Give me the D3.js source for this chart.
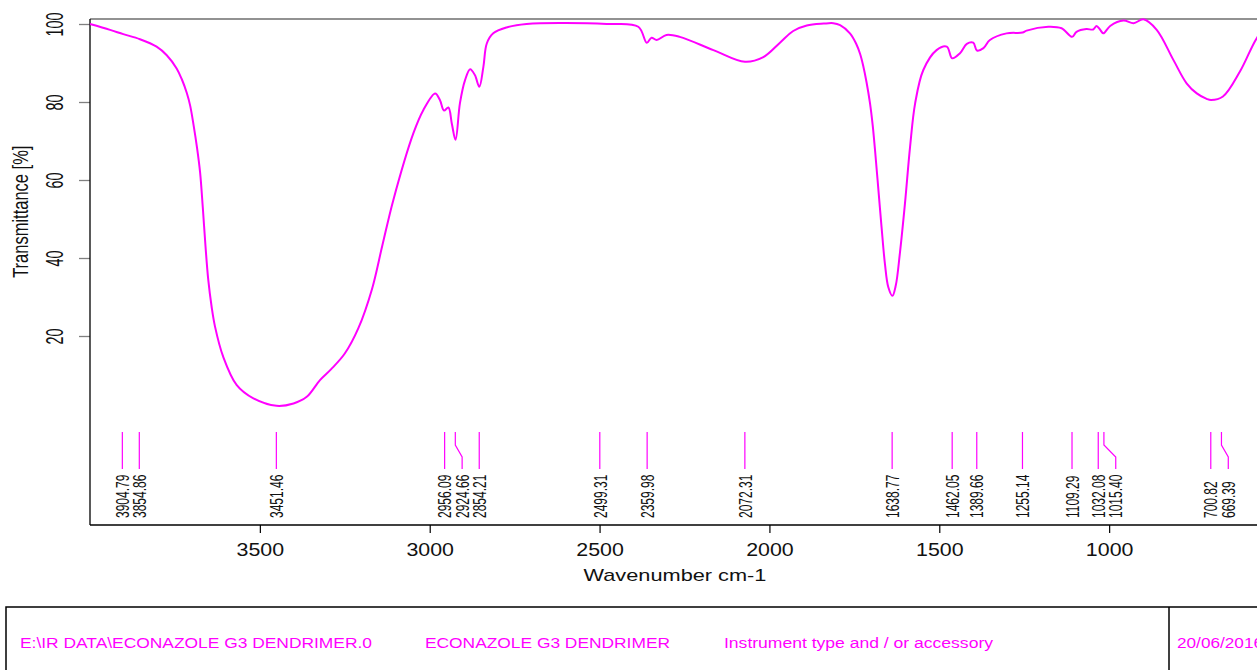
<!DOCTYPE html>
<html>
<head>
<meta charset="utf-8">
<script src="https://cdn.jsdelivr.net/npm/d3@7"></script>
<style>
  html, body { margin: 0; padding: 0; background: #fff; }
  svg { display: block; font-family: "Liberation Sans", Arial, sans-serif; }
</style>
</head>
<body>
<svg id="chart" width="1257" height="670"></svg>
<script>
// IR spectrum: wavenumber (cm-1) and transmittance (%)
const wavenumbers = [
  4000, 3941, 3902, 3853, 3804, 3774, 3745, 3730, 3715, 3705, 3695, 3685, 3676, 3668, 3660, 3652, 3642,
  3632, 3608, 3568, 3519,
  3451, 3401, 3362, 3323, 3290, 3250, 3210, 3170, 3140, 3107, 3048, 3019, 2984, 2970, 2958, 2945, 2935,
  2924, 2911, 2896, 2881, 2867, 2854, 2842, 2832, 2813, 2774, 2715, 2479, 2386, 2361, 2347, 2332, 2303,
  2264, 2165, 2072, 2018, 1969, 1930, 1890, 1840, 1812, 1792, 1763, 1745, 1733, 1724, 1714, 1704, 1696,
  1689, 1680, 1670, 1660, 1650, 1638, 1628, 1616, 1601, 1586, 1571, 1547, 1508, 1478, 1462, 1439, 1419,
  1400, 1389, 1370, 1351, 1302,
  1255, 1243, 1179, 1140, 1109, 1096, 1067, 1047, 1037, 1027, 1017, 997, 958, 928, 899, 860, 811, 772,
  742, 713, 700, 665, 615, 566, 540, 500
];
const transmittance = [
  100, 98.5, 97.4, 96.1, 94.2, 92, 88.6, 85.9, 82.3, 79, 74, 68.3, 62, 53, 43, 34.5, 27.5,
  22.4, 14.7, 7.4, 4.0,
  2.1, 2.7, 4.4, 8.7, 11.5, 15.5, 22, 32, 43, 54.9, 72, 77.9, 82.2, 80.5, 77.8, 78.6, 74.5,
  70.3, 79.7, 85.6, 88.4, 86.9, 83.9, 89, 95, 97.6, 99.1, 100, 100, 99.3, 95.2, 96.5, 95.9, 97.2,
  96.7, 93.3, 90.3, 91.5, 95.2, 98.2, 99.6, 100.1, 100.2, 99.7, 97.6, 95, 92.3, 89.3, 85, 79.7, 74,
  67.5, 58.3, 48, 38.5, 32.5, 30.3, 33, 41.2, 54, 68.5, 79.7, 88.2, 93.3, 94.2, 91.2, 92.5, 94.9,
  95.2, 93.2, 93.8, 95.9, 97.6,
  97.8, 98.3, 99.3, 98.9, 96.7, 98, 98.7, 98.6, 99.5, 98.6, 97.6, 99.5, 100.9, 100.2, 101.2, 98.5, 90.8, 84.8,
  82.2, 80.8, 80.5, 81.4, 87.8, 96.3, 99, 100
];

// Picked peak positions (cm-1)
const peaks = [
  3904.79, 3854.86, 3451.46, 2956.09, 2924.66, 2854.21, 2499.31, 2359.98, 2072.31,
  1638.77, 1462.05, 1389.66, 1255.14, 1109.29, 1032.08, 1015.40, 700.82, 669.39
];

const xTicks = [3500, 3000, 2500, 2000, 1500, 1000];
const yTicks = [20, 40, 60, 80, 100];

const footerTexts = [
  "E:\\IR DATA\\ECONAZOLE G3 DENDRIMER.0",
  "ECONAZOLE G3 DENDRIMER",
  "Instrument type and / or accessory",
  "20/06/2016"
];

const MAGENTA = "#ff00ff";
const svg = d3.select("#chart");

const x = d3.scaleLinear().domain([4000, 500]).range([90, 1279]);
const y = d3.scaleLinear().domain([0, 100]).range([414, 24]);
const frameTop = 19, frameBottom = 525;

// frame: grey top edge, black left and bottom axes
svg.append("line")
  .attr("x1", 90).attr("x2", 1300).attr("y1", frameTop).attr("y2", frameTop)
  .attr("stroke", "#6e6e6e").attr("stroke-width", 1.3);

// y axis
const yAxis = svg.append("g")
  .attr("transform", "translate(90,0)")
  .call(d3.axisLeft(y).tickValues(yTicks).tickSize(11).tickFormat(d3.format("d")));
yAxis.select(".domain").remove();
yAxis.selectAll(".tick line").attr("stroke", "#808080").attr("stroke-width", 1.3);
yAxis.selectAll(".tick text")
  .attr("x", null).attr("dy", null)
  .attr("fill", "#111")
  .attr("font-size", 14.4)
  .attr("text-anchor", "middle")
  .attr("transform", "translate(-27,0) scale(1.62,1) rotate(-90)");
svg.append("line")
  .attr("x1", 90).attr("x2", 90).attr("y1", frameTop).attr("y2", frameBottom)
  .attr("stroke", "#000").attr("stroke-width", 1.3);

// x axis
const xAxis = svg.append("g")
  .attr("transform", `translate(0,${frameBottom})`)
  .call(d3.axisBottom(x).tickValues(xTicks).tickSize(8).tickFormat(d3.format("d")));
xAxis.select(".domain").remove();
xAxis.selectAll(".tick line").attr("stroke", "#000").attr("stroke-width", 1.2);
xAxis.selectAll(".tick text")
  .attr("y", 31).attr("dy", null)
  .attr("fill", "#111")
  .attr("font-size", 18.6)
  .attr("transform", "scale(1.15,1)");
svg.append("line")
  .attr("x1", 90).attr("x2", 1300).attr("y1", frameBottom).attr("y2", frameBottom)
  .attr("stroke", "#000").attr("stroke-width", 1.3);

// axis titles
svg.append("text")
  .attr("transform", "translate(675,581) scale(1.28,1)")
  .attr("text-anchor", "middle").attr("font-size", 17).attr("fill", "#111")
  .text("Wavenumber cm-1");
svg.append("text")
  .attr("transform", "translate(28.2,211.7) scale(1.3,1) rotate(-90)")
  .attr("text-anchor", "middle").attr("font-size", 16.5).attr("fill", "#111")
  .text("Transmittance [%]");

// spectrum
const spectrum = wavenumbers.map((w, i) => ({ w, t: transmittance[i] }));
const line = d3.line()
  .x(d => x(d.w))
  .y(d => y(d.t))
  .curve(d3.curveCatmullRom.alpha(0.5));
svg.append("path")
  .datum(spectrum)
  .attr("d", line)
  .attr("fill", "none")
  .attr("stroke", MAGENTA)
  .attr("stroke-width", 2)
  .attr("stroke-linejoin", "round");

// peak labels, spread apart where they would overlap
const minGap = 17.5;
const placed = [];
peaks.forEach((p, i) => {
  const px = x(p);
  let lx = px;
  if (i > 0 && lx < placed[i - 1].lx + minGap - 1) lx = placed[i - 1].lx + minGap;
  placed.push({ p, px, lx });
});

const peakG = svg.append("g");
placed.forEach(d => {
  const pts = d.lx === d.px
    ? [[d.px, 432], [d.px, 469]]
    : [[d.px, 432], [d.px, 445], [d.lx, 457], [d.lx, 469]];
  peakG.append("path")
    .attr("d", d3.line()(pts))
    .attr("fill", "none")
    .attr("stroke", MAGENTA)
    .attr("stroke-width", 1.2);
  peakG.append("text")
    .attr("transform", `translate(${d.lx},518) scale(1.55,1) rotate(-90)`)
    .attr("dy", "0.36em")
    .attr("text-anchor", "start")
    .attr("font-size", 12)
    .attr("fill", "#111")
    .text(d3.format(".2f")(d.p));
});

// footer box
svg.append("rect")
  .attr("x", 6).attr("y", 607).attr("width", 1400).attr("height", 200)
  .attr("fill", "none").attr("stroke", "#000").attr("stroke-width", 1.5);
svg.append("line")
  .attr("x1", 1169).attr("x2", 1169).attr("y1", 607).attr("y2", 700)
  .attr("stroke", "#000").attr("stroke-width", 1.5);

const footerX = [20, 425, 724, 1177];
const footerW = [352, 245, 269, 86];
footerTexts.forEach((t, i) => {
  svg.append("text")
    .attr("x", footerX[i]).attr("y", 648)
    .attr("font-size", 14)
    .attr("fill", MAGENTA)
    .attr("textLength", footerW[i])
    .attr("lengthAdjust", "spacingAndGlyphs")
    .text(t);
});
</script>
</body>
</html>
